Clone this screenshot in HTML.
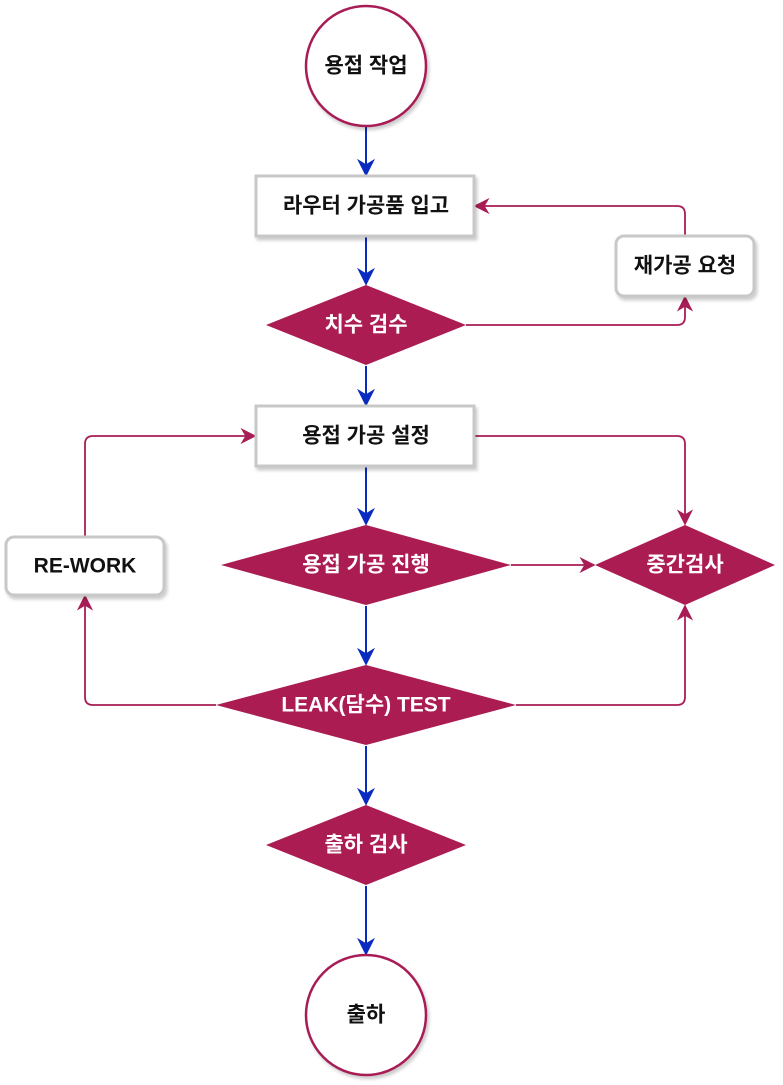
<!DOCTYPE html>
<html><head><meta charset="utf-8"><style>
html,body{margin:0;padding:0;background:#fff;}
svg{display:block;}
text{font-family:"Liberation Sans","Noto Sans CJK KR",sans-serif;font-weight:bold;font-size:21px;text-anchor:middle;dominant-baseline:central;}
</style></head><body>
<svg width="783" height="1085" viewBox="0 0 783 1085" xmlns="http://www.w3.org/2000/svg">
<defs>
<marker id="ab" viewBox="0 0 10 10" refX="9" refY="5" markerWidth="9" markerHeight="9" orient="auto"><path d="M0,0 L10,5 L0,10 L3,5 Z" fill="#0a2bbf"/></marker>
<marker id="am" viewBox="0 0 10 10" refX="9" refY="5" markerWidth="9" markerHeight="9" orient="auto"><path d="M0,0 L10,5 L0,10 L3,5 Z" fill="#a81d55"/></marker>
<filter id="sh" x="-10%" y="-10%" width="130%" height="140%"><feDropShadow dx="2" dy="3" stdDeviation="1.5" flood-color="#000" flood-opacity="0.2"/></filter>
</defs>
<g stroke="#0a2bbf" stroke-width="2" fill="none" marker-end="url(#ab)">
<line x1="366" y1="127" x2="366" y2="175"/>
<line x1="366" y1="237" x2="366" y2="284"/>
<line x1="366" y1="366" x2="366" y2="405"/>
<line x1="366" y1="467" x2="366" y2="524"/>
<line x1="366" y1="606" x2="366" y2="664"/>
<line x1="366" y1="746" x2="366" y2="804"/>
<line x1="366" y1="886" x2="366" y2="954"/>
</g>
<g stroke="#a81d55" stroke-width="1.8" fill="none" marker-end="url(#am)">
<path d="M466,325 H677 Q685,325 685,317 V297"/>
<path d="M685,236 V214 Q685,206 677,206 H475"/>
<path d="M474,436 H677 Q685,436 685,444 V524"/>
<path d="M511,565 H594"/>
<path d="M516,705 H677 Q685,705 685,697 V606"/>
<path d="M216,705 H93 Q85,705 85,697 V596"/>
<path d="M85,537 V444 Q85,436 93,436 H255"/>
</g>
<circle cx="366" cy="66" r="60" fill="#fff" stroke="#a81d55" stroke-width="2.5" filter="url(#sh)"/>
<circle cx="366" cy="1015" r="60" fill="#fff" stroke="#a81d55" stroke-width="2.5" filter="url(#sh)"/>
<rect x="256" y="176" width="218" height="60" fill="#fff" stroke="#c8c8c8" stroke-width="3" filter="url(#sh)"/>
<rect x="256" y="406" width="218" height="60" fill="#fff" stroke="#c8c8c8" stroke-width="3" filter="url(#sh)"/>
<rect x="616" y="236" width="138" height="60" rx="8" fill="#fff" stroke="#c8c8c8" stroke-width="3" filter="url(#sh)"/>
<rect x="6" y="537" width="158" height="58" rx="8" fill="#fff" stroke="#c8c8c8" stroke-width="3" filter="url(#sh)"/>
<g fill="#ab1c52">
<polygon points="266,325 366,285 466,325 366,365"/>
<polygon points="221,565 366,525 511,565 366,605"/>
<polygon points="595,565 685,525 775,565 685,605"/>
<polygon points="216,705 366,665 516,705 366,745"/>
<polygon points="266,845 366,805 466,845 366,885"/>
</g>
<g fill="#111">
<text x="366" y="66">용접 작업</text>
<text x="366" y="206">라우터 가공품 입고</text>
<text x="685" y="266">재가공 요청</text>
<text x="366" y="436">용접 가공 설정</text>
<text x="85" y="566">RE-WORK</text>
<text x="366" y="1015">출하</text>
</g>
<g fill="#fff">
<text x="366" y="325">치수 검수</text>
<text x="366" y="565">용접 가공 진행</text>
<text x="685" y="565">중간검사</text>
<text x="366" y="705">LEAK(담수) TEST</text>
<text x="366" y="845">출하 검사</text>
</g>
</svg>
</body></html>
